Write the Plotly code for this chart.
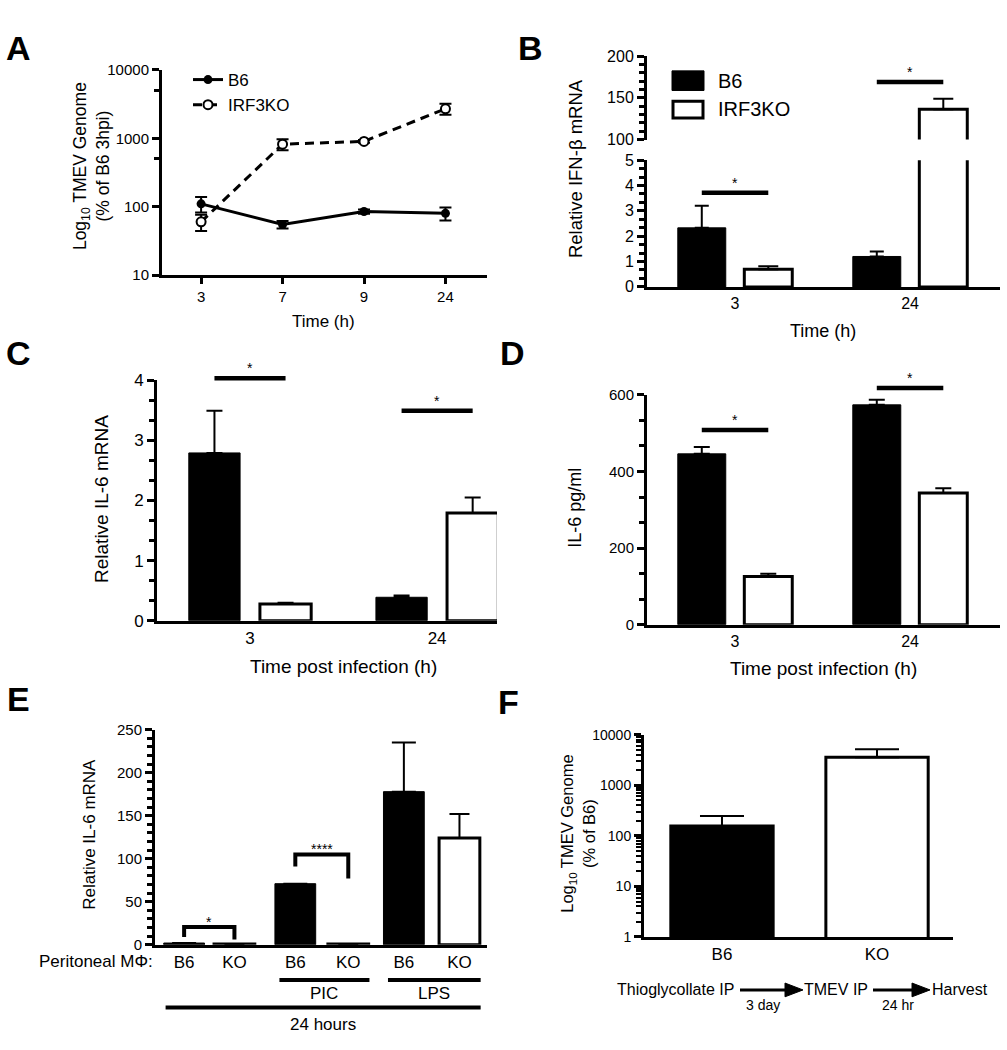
import plotly.graph_objects as go

# ---------------- data ----------------
a_times = ['3', '7', '9', '24']
a_b6 = [110, 55, 85, 80]
a_b6_err = [28, 7, 6, 17]
a_ko = [60, 820, 900, 2700]
a_ko_err = [16, 150, 40, 500]
a_yticks = [10, 100, 1000, 10000]
a_yticktext = ['10', '100', '1000', '10000']

b_times = ['3', '24']
b_b6 = [2.33, 1.2]
b_b6_err = [0.87, 0.2]
b_ko = [0.70, 136.5]
b_ko_err = [0.11, 12.5]
b_sig = [3.72, 169]

c_times = ['3', '24']
c_b6 = [2.79, 0.39]
c_b6_err = [0.70, 0.03]
c_ko = [0.28, 1.79]
c_ko_err = [0.02, 0.26]
c_sig = [4.03, 3.49]

d_times = ['3', '24']
d_b6 = [446, 574]
d_b6_err = [18, 13]
d_ko = [126, 344]
d_ko_err = [7, 12]
d_sig = [508, 618]

e_labels = ['B6', 'KO', 'B6', 'KO', 'B6', 'KO']
e_treat = ['PIC', 'LPS']
e_b6 = [2, 71, 178]
e_b6_err = [None, None, 57]
e_ko = [0.8, 1, 124]
e_ko_err = [None, None, 28]
e_brk_top = [20.5, 105]
e_brk_left = [9, 91]
e_brk_right = [6, 77]
e_brk_text = ['*', '****']

f_groups = ['B6', 'KO']
f_vals = [156, 3575]
f_err = [89, 1535]
f_yticks = [1, 10, 100, 1000, 10000]
f_yticktext = ['1', '10', '100', '1000', '10000']

# ---------------- layout helpers ----------------
W, H = 1007, 1050
FONT = "Liberation Sans, Arial, sans-serif"
BLACK = 'black'


def fx(x):
    return x / W


def fy(y):
    return 1 - y / H


# panel boxes in pixels: (left, top, right, bottom)
A_BOX = (162, 62, 487, 271)
B_LO = (647, 154, 1000, 283)
B_HI = (647, 48, 1000, 133)
C_BOX = (157, 378, 497, 623)
D_BOX = (647, 393, 1000, 627)
E_BOX = (155, 734, 487, 953)
F_BOX = (644, 739, 953, 945)

A_XR = [-0.48, 3.51]
B_XR = [-0.503, 1.514]
C_XR = [-0.497, 1.32]
D_XR = [-0.503, 1.514]
E_XR = [-0.55, 5.72]
F_XR = [-0.503, 1.49]

B_LO_R = [0, 5]
B_HI_R = [100, 200]
C_R = [0, 4]
D_R = [0, 600]
E_R = [0, 250]

BW = 0.274      # grouped bar width (category units)
OFF = 0.19      # group offset of each bar centre
E_POS = [0, 0.95, 2.1, 3.1, 4.15, 5.2]
E_BW = 0.77


def val_to_paper(box, rng, v):
    top, bottom = box[1], box[3]
    frac = (v - rng[0]) / (rng[1] - rng[0])
    return fy(bottom - frac * (bottom - top))


def xdom(box):
    return [fx(box[0]), fx(box[2])]


def ydom(box):
    return [fy(box[3]), fy(box[1])]


def minor_lin(step):
    return dict(tickmode='linear', dtick=step, ticks='outside', ticklen=5,
                tickwidth=2.5, tickcolor=BLACK, showgrid=False)


def yaxis(box, rng, anchor, size=15, **kw):
    d = dict(domain=ydom(box), range=rng, anchor=anchor, showline=True,
             linewidth=3, linecolor=BLACK, ticks='outside', ticklen=7,
             tickwidth=2.5, tickcolor=BLACK, showgrid=False, zeroline=False,
             tickfont=dict(size=size, family=FONT, color=BLACK))
    d.update(kw)
    return d


def xaxis(box, rng, anchor, size=16, **kw):
    d = dict(domain=xdom(box), range=rng, anchor=anchor, showline=True,
             linewidth=3, linecolor=BLACK, ticks='', showgrid=False,
             zeroline=False, tickfont=dict(size=size, family=FONT, color=BLACK))
    d.update(kw)
    return d


def err(arr, w):
    return dict(type='data', array=arr, arrayminus=[0] * len(arr), symmetric=False,
                color=BLACK, thickness=2, width=w)


fig = go.Figure()
shapes = []
ann = []


def text(x, y, s, size, xanchor='center', yanchor='middle', angle=0, xref='paper', yref='paper', **kw):
    a = dict(x=x, y=y, xref=xref, yref=yref, text=s, showarrow=False,
             xanchor=xanchor, yanchor=yanchor, textangle=angle,
             font=dict(size=size, family=FONT, color=BLACK))
    a.update(kw)
    ann.append(a)


# ---------------- panel A ----------------
fig.add_trace(go.Scatter(
    x=a_times, y=a_b6, mode='lines+markers', name='B6', xaxis='x', yaxis='y',
    line=dict(color=BLACK, width=3),
    marker=dict(symbol='circle', size=9, color=BLACK),
    error_y=dict(type='data', array=a_b6_err, color=BLACK, thickness=2, width=6)))
fig.add_trace(go.Scatter(
    x=a_times, y=a_ko, mode='lines+markers', name='IRF3KO', xaxis='x', yaxis='y',
    line=dict(color=BLACK, width=3, dash='9px,6px'),
    marker=dict(symbol='circle', size=9, color='white', line=dict(color=BLACK, width=2)),
    error_y=dict(type='data', array=a_ko_err, color=BLACK, thickness=2, width=6)))

# ---------------- panel B (broken axis) ----------------
for xa, ya in (('x2', 'y2'), ('x3', 'y3')):
    fig.add_trace(go.Bar(x=b_times, y=b_b6, xaxis=xa, yaxis=ya, width=BW,
                         offset=-OFF - BW / 2, showlegend=False,
                         marker=dict(color=BLACK, line=dict(color=BLACK, width=1)),
                         error_y=err(b_b6_err, 7)))
    fig.add_trace(go.Bar(x=b_times, y=b_ko, xaxis=xa, yaxis=ya, width=BW,
                         offset=OFF - BW / 2, showlegend=False,
                         marker=dict(color='white', line=dict(color=BLACK, width=3)),
                         error_y=err(b_ko_err, 10)))

# ---------------- panel C ----------------
fig.add_trace(go.Bar(x=c_times, y=c_b6, xaxis='x4', yaxis='y4', width=BW,
                     offset=-OFF - BW / 2, showlegend=False,
                     marker=dict(color=BLACK, line=dict(color=BLACK, width=1)),
                     error_y=err(c_b6_err, 8)))
fig.add_trace(go.Bar(x=c_times, y=c_ko, xaxis='x4', yaxis='y4', width=BW,
                     offset=OFF - BW / 2, showlegend=False,
                     marker=dict(color='white', line=dict(color=BLACK, width=3)),
                     error_y=err(c_ko_err, 8)))

# ---------------- panel D ----------------
fig.add_trace(go.Bar(x=d_times, y=d_b6, xaxis='x5', yaxis='y5', width=BW,
                     offset=-OFF - BW / 2, showlegend=False,
                     marker=dict(color=BLACK, line=dict(color=BLACK, width=1)),
                     error_y=err(d_b6_err, 8)))
fig.add_trace(go.Bar(x=d_times, y=d_ko, xaxis='x5', yaxis='y5', width=BW,
                     offset=OFF - BW / 2, showlegend=False,
                     marker=dict(color='white', line=dict(color=BLACK, width=3)),
                     error_y=err(d_ko_err, 8)))

# ---------------- panel E ----------------
fig.add_trace(go.Bar(x=E_POS[0::2], y=e_b6, xaxis='x6', yaxis='y6', width=E_BW,
                     showlegend=False,
                     marker=dict(color=BLACK, line=dict(color=BLACK, width=1)),
                     error_y=err(e_b6_err, 12)))
fig.add_trace(go.Bar(x=E_POS[1::2], y=e_ko, xaxis='x6', yaxis='y6', width=E_BW,
                     showlegend=False,
                     marker=dict(color='white', line=dict(color=BLACK, width=3)),
                     error_y=err(e_ko_err, 10)))

# ---------------- panel F ----------------
fig.add_trace(go.Bar(x=f_groups, y=f_vals, xaxis='x7', yaxis='y7', width=0.66,
                     showlegend=False,
                     marker=dict(color=[BLACK, 'white'], line=dict(color=BLACK, width=3)),
                     error_y=err(f_err, 22)))

# ---------------- significance lines B, C, D ----------------
SIG_FONT = 14


def sig(xref, idx, v, box, rng, label='*'):
    yp = val_to_paper(box, rng, v)
    shapes.append(dict(type='line', xref=xref, yref='paper', x0=idx - OFF, x1=idx + OFF,
                       y0=yp, y1=yp, line=dict(color=BLACK, width=4.5)))
    text(idx, yp, label, SIG_FONT, yanchor='bottom', xref=xref)


sig('x2', 0, b_sig[0], B_LO, B_LO_R)
sig('x3', 1, b_sig[1], B_HI, B_HI_R)
for i in range(2):
    sig('x4', i, c_sig[i], C_BOX, C_R)
    sig('x5', i, d_sig[i], D_BOX, D_R)

# ---------------- E brackets and group lines ----------------
for k in range(2):
    xl, xr = E_POS[2 * k], E_POS[2 * k + 1]
    shapes.append(dict(type='path', xref='x6', yref='y6',
                       path=f'M {xl},{e_brk_left[k]} L {xl},{e_brk_top[k]} L {xr},{e_brk_top[k]} L {xr},{e_brk_right[k]}',
                       line=dict(color=BLACK, width=4)))
    text((xl + xr) / 2, e_brk_top[k], e_brk_text[k], SIG_FONT, yanchor='bottom',
         xref='x6', yref='y6', yshift=-5)

for k, lab in enumerate(e_treat):
    x0, x1 = E_POS[2 + 2 * k] - 0.3, E_POS[3 + 2 * k] + 0.4
    shapes.append(dict(type='line', xref='x6', yref='paper', x0=x0, x1=x1,
                       y0=fy(989), y1=fy(989), line=dict(color=BLACK, width=4)))
    text((x0 + x1) / 2, fy(1003), lab, 17, xref='x6')
x0, x1 = E_POS[0] - 0.35, E_POS[5] + 0.4
shapes.append(dict(type='line', xref='x6', yref='paper', x0=x0, x1=x1,
                   y0=fy(1017), y1=fy(1017), line=dict(color=BLACK, width=4)))
text((x0 + x1) / 2, fy(1034), '24 hours', 17, xref='x6')
text(fx(155), fy(970), 'Peritoneal MΦ:', 17, xanchor='right')

# ---------------- B legend (manual boxes) ----------------
shapes.append(dict(type='rect', xref='paper', yref='paper', x0=fx(672), x1=fx(704),
                   y0=fy(83), y1=fy(63), fillcolor=BLACK, line=dict(color=BLACK, width=1)))
shapes.append(dict(type='rect', xref='paper', yref='paper', x0=fx(673), x1=fx(703),
                   y0=fy(111), y1=fy(94), fillcolor='white', line=dict(color=BLACK, width=3)))
text(fx(716), fy(73), 'B6', 20, xanchor='left')
text(fx(716), fy(102), 'IRF3KO', 20, xanchor='left')


# ---------------- F protocol row ----------------
def arrow(x0, x1, y):
    shapes.append(dict(type='line', xref='paper', yref='paper', x0=fx(x0), x1=fx(x1 - 14),
                       y0=fy(y), y1=fy(y), line=dict(color=BLACK, width=3)))
    shapes.append(dict(type='path', xref='paper', yref='paper',
                       path=f'M {fx(x1 - 18)},{fy(y - 7)} L {fx(x1)},{fy(y)} L {fx(x1 - 18)},{fy(y + 7)} Z',
                       fillcolor=BLACK, line=dict(color=BLACK, width=1)))


text(fx(736), fy(999), 'Thioglycollate IP', 16, xanchor='right')
arrow(740, 803, 999)
text(fx(763), fy(1014), '3 day', 14)
text(fx(802), fy(999), 'TMEV IP', 16, xanchor='left')
arrow(873, 930, 999)
text(fx(898), fy(1014), '24 hr', 14)
text(fx(930), fy(999), 'Harvest', 16, xanchor='left')

# ---------------- axis titles ----------------
text(fx(91), fy(160), 'Log<sub>10</sub> TMEV Genome<br>(% of B6 3hpi)', 17.5, angle=-90)
text(fx(323), fy(318), 'Time (h)', 17)
text(fx(575), fy(163), 'Relative IFN-β mRNA', 18.5, angle=-90)
text(fx(823), fy(328), 'Time (h)', 18)
text(fx(102), fy(499), 'Relative IL-6 mRNA', 19, angle=-90)
text(fx(343), fy(670), 'Time post infection (h)', 19)
text(fx(575), fy(508), 'IL-6 pg/ml', 18, angle=-90)
text(fx(823), fy(672), 'Time post infection (h)', 19)
text(fx(90), fy(841), 'Relative IL-6 mRNA', 17, angle=-90)
text(fx(578), fy(840), 'Log<sub>10</sub> TMEV Genome<br>(% of B6)', 16.5, angle=-90)

# ---------------- panel letters ----------------
for L, x, y in (('A', 18, 40), ('B', 530, 40), ('C', 18, 350),
                ('D', 512, 350), ('E', 18, 703), ('F', 508, 706)):
    text(fx(x), fy(y), f'<b>{L}</b>', 34)

# ---------------- axes ----------------
fig.update_layout(
    xaxis=xaxis(A_BOX, A_XR, 'y', size=15, type='category', ticks='outside',
                ticklen=6, tickwidth=2.5, tickcolor=BLACK),
    yaxis=yaxis(A_BOX, [1, 4], 'x', size=15, type='log', tickvals=a_yticks,
                ticktext=a_yticktext,
                minor=dict(tickmode='array', tickvals=[500, 5000], ticks='outside',
                           ticklen=5, tickwidth=2.5, tickcolor=BLACK)),
    xaxis2=xaxis(B_LO, B_XR, 'y2', size=16, type='category'),
    yaxis2=yaxis(B_LO, B_LO_R, 'x2', size=16, tickmode='linear', tick0=0, dtick=1,
                 minor=minor_lin(1 / 3)),
    xaxis3=xaxis(B_HI, B_XR, 'y3', type='category', visible=False, matches='x2'),
    yaxis3=yaxis(B_HI, B_HI_R, 'x3', size=16, tickmode='linear', tick0=0, dtick=50,
                 minor=minor_lin(10)),
    xaxis4=xaxis(C_BOX, C_XR, 'y4', size=17, type='category'),
    yaxis4=yaxis(C_BOX, C_R, 'x4', size=17, tickmode='linear', tick0=0, dtick=1,
                 minor=minor_lin(1 / 3)),
    xaxis5=xaxis(D_BOX, D_XR, 'y5', size=16, type='category'),
    yaxis5=yaxis(D_BOX, D_R, 'x5', size=15, tickmode='linear', tick0=0, dtick=200,
                 minor=minor_lin(200 / 3)),
    xaxis6=xaxis(E_BOX, E_XR, 'y6', size=17, tickmode='array', tickvals=E_POS,
                 ticktext=e_labels),
    yaxis6=yaxis(E_BOX, E_R, 'x6', size=15, tickmode='linear', tick0=0, dtick=50,
                 minor=minor_lin(10)),
    xaxis7=xaxis(F_BOX, F_XR, 'y7', size=17, type='category'),
    yaxis7=yaxis(F_BOX, [0, 4], 'x7', size=14, type='log', tickvals=f_yticks,
                 ticktext=f_yticktext,
                 minor=dict(tickmode='array',
                            tickvals=[k * 10 ** d for d in range(4) for k in range(2, 10)],
                            ticks='outside', ticklen=5, tickwidth=2, tickcolor=BLACK)),
)

fig.update_layout(
    width=W, height=H, margin=dict(l=0, r=0, t=0, b=0),
    paper_bgcolor='white', plot_bgcolor='white',
    barmode='overlay',
    font=dict(family=FONT, color=BLACK),
    showlegend=True,
    legend=dict(x=fx(188), y=fy(54), xanchor='left', yanchor='top',
                bgcolor='rgba(0,0,0,0)', itemwidth=30, tracegroupgap=0,
                font=dict(size=17, family=FONT, color=BLACK)),
    shapes=shapes, annotations=ann,
)

fig.write_html("out.html", config={'displayModeBar': False},
               post_script="document.body.style.margin='0';")
